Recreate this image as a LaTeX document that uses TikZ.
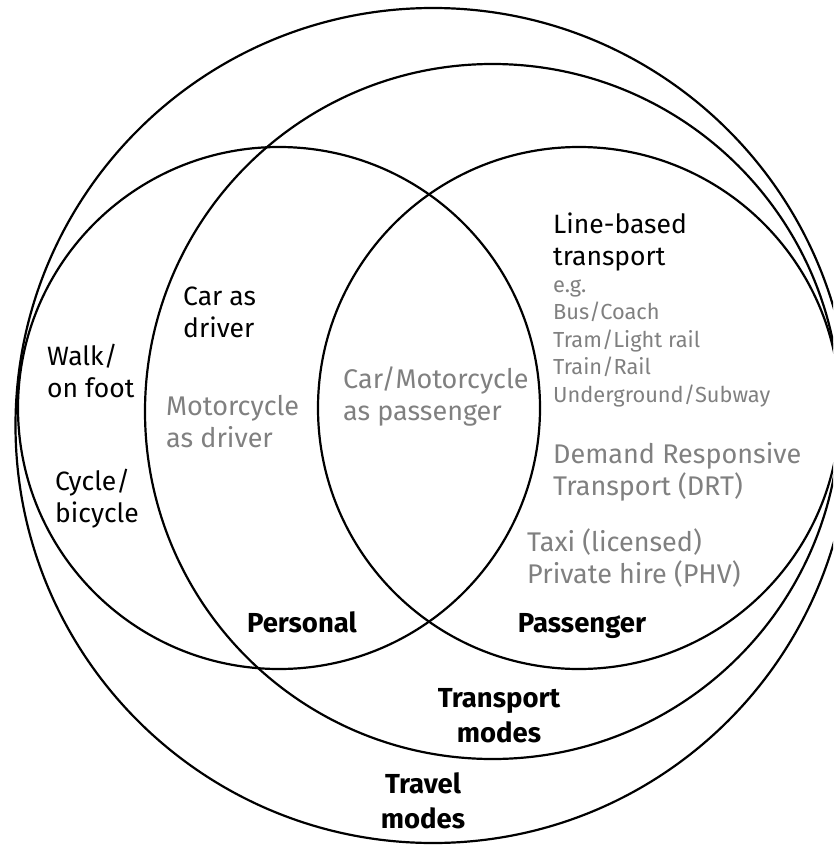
\documentclass[tikz,border=0pt]{standalone}
\usepackage{fontspec}
\setmainfont{Fira Sans}
\definecolor{labelgrey}{RGB}{128,128,128}
\begin{document}
\begin{tikzpicture}[x=1pt, y=-1pt,
  ring/.style={draw=black, line width=2.2pt},
  lbl/.style={anchor=base west, align=left, inner sep=0pt, font=\fontsize{26.5}{32}\selectfont},
  greylbl/.style={lbl, text=labelgrey, font=\fontsize{27}{32}\selectfont},
  listlbl/.style={lbl, text=labelgrey, font=\fontsize{21.8}{27.5}\selectfont},
  setlbl/.style={anchor=base, align=center, inner sep=0pt, font=\bfseries\fontsize{27.5}{35}\selectfont}]
\useasboundingbox (0,0) rectangle (833,845);
\clip (0,0) rectangle (833,845);

% set centres
\coordinate (ctravel) at (433,425.5);
\coordinate (ctransport) at (492.5,411.5);
\coordinate (cpersonal) at (279,408);
\coordinate (cpassenger) at (579,408);

% the four sets
\draw[ring] (ctravel) circle[radius=417.5];
\draw[ring] (ctransport) circle[radius=347.5];
\draw[ring] (cpersonal) circle[radius=261];
\draw[ring] (cpassenger) circle[radius=261];

% personal-only modes (anchored on the baseline of the last line)
\node[lbl] (walk) at (47,397) {Walk/\\on foot};
\node[lbl] (cycle) at (55,522) {Cycle/\\bicycle};
\node[lbl] (cardriver) at (183,337) {Car as\\driver};
\node[greylbl] (motodriver) at (166,447) {Motorcycle\\as driver};

% shared personal/passenger
\node[greylbl] (carpass) at (343,420) {Car/Motorcycle\\as passenger};

% passenger modes
\node[lbl] (linebased) at (553,265) {Line-based\\transport};
\node[listlbl] (examples) at (553,402) {e.g.\\Bus/Coach\\Tram/Light rail\\Train/Rail\\Underground/Subway};
\node[greylbl] (drt) at (553,495) {Demand Responsive\\Transport (DRT)};
\node[greylbl] (taxi) at (527,583) {Taxi (licensed)\\Private hire (PHV)};

% set labels
\node[setlbl] (personal) at (302,632) {Personal};
\node[setlbl] (passenger) at (582,632) {Passenger};
\node[setlbl] (transport) at (499,742) {Transport\\modes};
\node[setlbl] (travel) at (423,828) {Travel\\modes};
\end{tikzpicture}
\end{document}
